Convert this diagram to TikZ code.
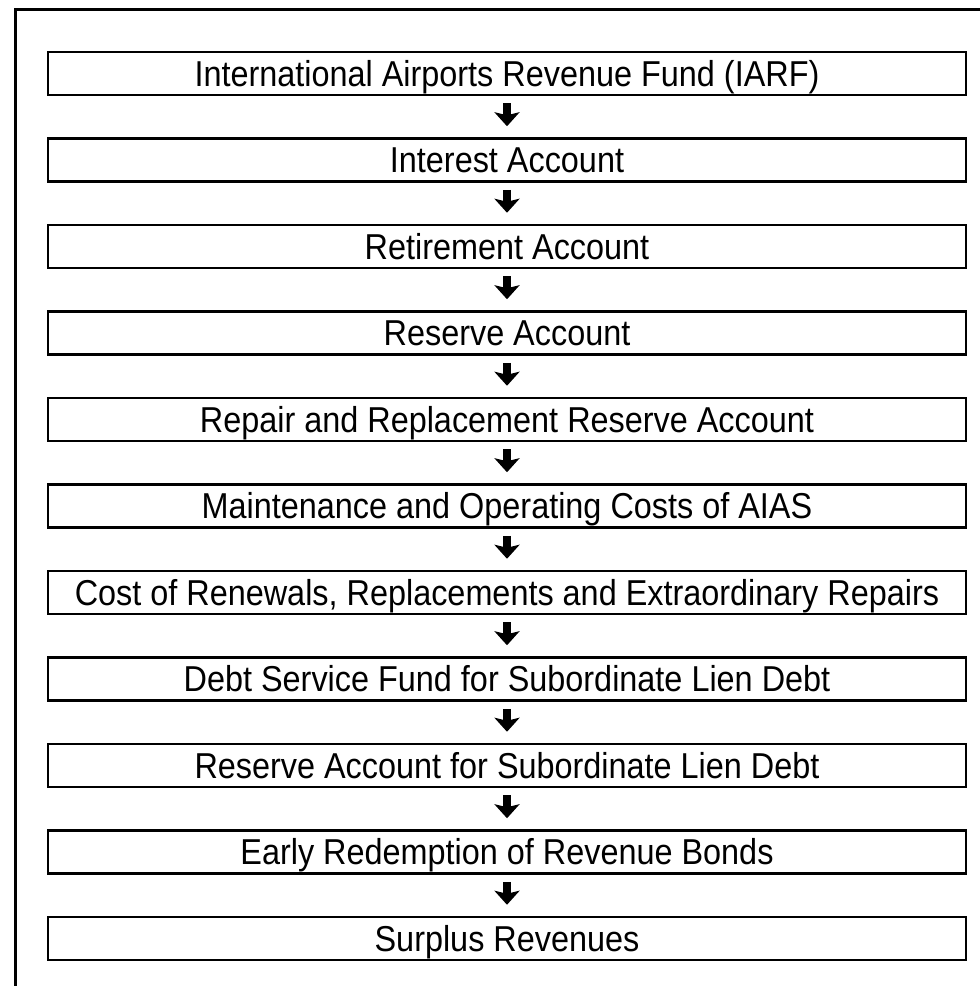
\documentclass[tikz,border=0pt]{standalone}
\usepackage{fontspec}
\newfontfamily\labfont[FakeStretch=0.9]{Liberation Sans}
\usetikzlibrary{arrows.meta}
\begin{document}
\begin{tikzpicture}[x=1pt,y=-1pt,
  flowbox/.style={draw=black, line width=2.5pt, minimum width=918pt, minimum height=43pt,
    inner sep=0pt, text height=25.8pt, text depth=0pt,
    font=\labfont\fontsize{36}{40}\selectfont},
  flowarrow/.style={line width=8pt, -{Stealth[length=14pt,width=25pt,inset=3pt]},
    shorten <=7pt, shorten >=11pt}]
\useasboundingbox (0,0) rectangle (980,986);
\draw[line width=3pt] (15,986) -- (15,9) -- (980,9);
\foreach \i/\t in {0/{International Airports Revenue Fund (IARF)},
  1/{Interest Account},
  2/{Retirement Account},
  3/{Reserve Account},
  4/{Repair and Replacement Reserve Account},
  5/{Maintenance and Operating Costs of AIAS},
  6/{Cost of Renewals, Replacements and Extraordinary Repairs},
  7/{Debt Service Fund for Subordinate Lien Debt},
  8/{Reserve Account for Subordinate Lien Debt},
  9/{Early Redemption of Revenue Bonds},
  10/{Surplus Revenues}}
  \node[flowbox] (b\i) at (507,{73.5+86.5*\i}) {\t};
\foreach \i [evaluate=\i as \j using int(\i+1)] in {0,...,9}
  \draw[flowarrow] (b\i.south) -- (b\j.north);
\end{tikzpicture}
\end{document}
